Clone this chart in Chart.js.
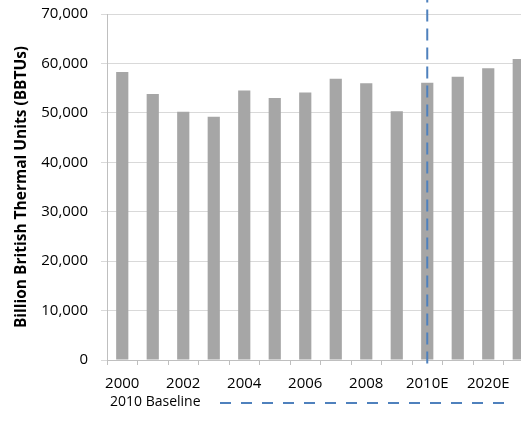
<!DOCTYPE html>
<html>
<head>
<meta charset="utf-8">
<script src="https://cdn.jsdelivr.net/npm/chart.js@4.4.1/dist/chart.umd.min.js"></script>
<style>
  html, body { margin: 0; padding: 0; overflow: hidden; background: #fff; }
  #wrap { position: relative; width: 534px; height: 430px; }
</style>
</head>
<body>
<div id="wrap"><canvas id="c"></canvas></div>
<script>
const categories = ['2000','2001','2002','2003','2004','2005','2006','2007','2008','2009','2010E','2015E','2020E','2025E'];
const consumption = [58250, 53800, 50200, 49200, 54500, 53000, 54100, 56900, 56000, 50300, 56100, 57300, 59000, 60900];
const yTicks = [0, 10000, 20000, 30000, 40000, 50000, 60000, 70000];
const baselineCategory = '2010E';
const baselineSpan = [-700, 74000];
const yTitle = 'Billion British Thermal Units (BBTUs)';
const baselineLabel = '2010 Baseline';

const FONT = '"Open Sans", "DejaVu Sans", sans-serif';

const legendPlugin = {
  id: 'baselineLegend',
  afterDraw(chart) {
    const ds = chart.data.datasets[1];
    const ctx = chart.ctx;
    ctx.save();
    ctx.font = '14px ' + FONT;
    ctx.fillStyle = '#000';
    ctx.textBaseline = 'middle';
    ctx.textAlign = 'left';
    ctx.fillText(ds.label, 110, 402);
    ctx.strokeStyle = ds.borderColor;
    ctx.lineWidth = ds.borderWidth;
    ctx.setLineDash([11, 10]);
    ctx.beginPath();
    ctx.moveTo(220, 403);
    ctx.lineTo(505, 403);
    ctx.stroke();
    ctx.restore();
  }
};

new Chart(document.getElementById('c'), {
  type: 'bar',
  data: {
    labels: categories,
    datasets: [
      {
        type: 'bar',
        label: 'Consumption',
        data: consumption,
        backgroundColor: '#a6a6a6',
        barPercentage: 0.4,
        categoryPercentage: 1,
        order: 2
      },
      {
        type: 'line',
        label: baselineLabel,
        data: baselineSpan.map(y => ({ x: baselineCategory, y })),
        borderColor: '#4f81bd',
        borderWidth: 2,
        borderDash: [12, 7],
        pointRadius: 0,
        fill: false,
        clip: false,
        order: 1
      }
    ]
  },
  options: {
    responsive: true,
    maintainAspectRatio: false,
    animation: false,
    layout: { padding: { top: 14, left: 0, right: 0, bottom: 0 } },
    plugins: {
      legend: { display: false },
      tooltip: { enabled: false }
    },
    scales: {
      x: {
        offset: true,
        grid: { display: true, drawOnChartArea: false, offset: true, tickLength: 5, color: '#bfbfbf' },
        border: { color: '#bfbfbf' },
        ticks: {
          autoSkip: false,
          maxRotation: 0,
          padding: 10,
          color: '#000',
          font: { family: FONT, size: 15 },
          callback: (v, i) => (i % 2 === 0 ? categories[i] : '')
        },
        afterFit: s => { s.height = 70; s.paddingLeft = 0; s.paddingRight = 0; }
      },
      y: {
        min: 0,
        max: 70000,
        afterBuildTicks: s => { s.ticks = yTicks.map(v => ({ value: v })); },
        grid: { color: '#d9d9d9', tickLength: 6 },
        border: { color: '#bfbfbf' },
        ticks: {
          padding: 13,
          color: '#000',
          font: { family: FONT, size: 15 },
          callback: v => v.toLocaleString('en-US')
        },
        title: {
          display: true,
          text: yTitle,
          color: '#000',
          font: { family: FONT, size: 15.5, weight: 'bold' },
          padding: { top: 12, bottom: 0 }
        },
        afterFit: s => { s.width = 107; s.paddingTop = 0; s.paddingBottom = 0; }
      }
    }
  },
  plugins: [legendPlugin]
});
</script>
</body>
</html>
